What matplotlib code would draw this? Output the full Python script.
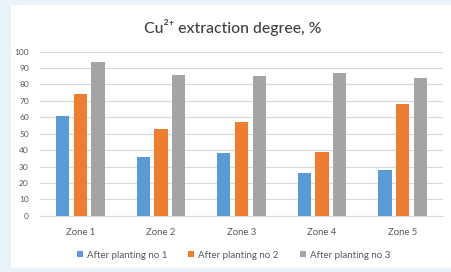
import numpy as np
import matplotlib
matplotlib.use('Agg')
import matplotlib.pyplot as plt
from matplotlib.patches import Rectangle

# Data
zones = ['Zone 1', 'Zone 2', 'Zone 3', 'Zone 4', 'Zone 5']
planting_1 = [61, 36, 38, 26, 28]
planting_2 = [74, 53, 57, 39, 68]
planting_3 = [94, 86, 85, 87, 84]
series_names = ['After planting no 1', 'After planting no 2', 'After planting no 3']
colors = ['#5B9BD5', '#ED7D31', '#A5A5A5']
yticks = list(range(0, 101, 10))

plt.rcParams['font.family'] = ['Lato', 'DejaVu Sans']

fig = plt.figure(figsize=(4.52, 2.72), dpi=100)
fig.patch.set_facecolor('#EAF4F8')
# white chart card behind everything
fig.patches.append(Rectangle((11 / 452, 4 / 272), 441 / 452, 263 / 272,
                             transform=fig.transFigure, facecolor='white',
                             edgecolor='none', zorder=-5))

ax = fig.add_axes([40 / 452, 1 - 215.7 / 272, 403 / 452, 164 / 272])
ax.set_facecolor('none')
ax.set_zorder(2)

x = np.arange(len(zones))
width = 0.165
step = 0.22
for i, (vals, name) in enumerate(zip([planting_1, planting_2, planting_3], series_names)):
    ax.bar(x + (i - 1) * step, vals, width, color=colors[i], label=name, zorder=3)

ax.set_xlim(-0.5, len(zones) - 0.5)
ax.set_ylim(0, 100)
ax.set_yticks(yticks)
ax.set_xticks(x)
ax.set_xticklabels(zones, fontsize=6.8)
ax.tick_params(axis='both', length=0, labelsize=6, labelcolor='#595959')
ax.tick_params(axis='x', pad=9, labelsize=6.8)
ax.tick_params(axis='y', pad=8)
ax.grid(axis='y', color='#D9D9D9', linewidth=0.8, zorder=0)
for s in ['top', 'right', 'left']:
    ax.spines[s].set_visible(False)
ax.spines['bottom'].set_color('#D9D9D9')

fig.text(0.515, 1 - 27 / 272, 'Cu²⁺ extraction degree, %', ha='center', va='center',
         fontsize=11.3, color='#404040', fontweight='medium')

ax.legend(loc='center', bbox_to_anchor=(0.48, 1 - (255 - 51.7) / 164), ncol=3, frameon=False,
          fontsize=7, labelcolor='#595959', handlelength=0.6, handleheight=0.6,
          columnspacing=2.2, handletextpad=0.4)

plt.savefig('out.png', dpi=100, facecolor=fig.get_facecolor())
